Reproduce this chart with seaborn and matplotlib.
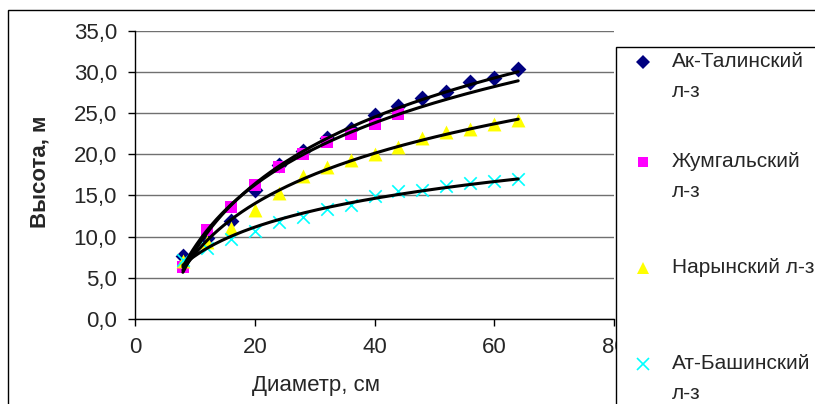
import numpy as np
import pandas as pd
import matplotlib
matplotlib.use("Agg")
import matplotlib.pyplot as plt
import seaborn as sns
from matplotlib.lines import Line2D
from matplotlib.patches import Rectangle
from matplotlib.ticker import FuncFormatter

# ---- data ----
diam = [8, 12, 16, 20, 24, 28, 32, 36, 40, 44, 48, 52, 56, 60, 64]
ak_talin = [7.6, 9.8, 11.9, 15.6, 18.7, 20.4, 22.0, 23.1, 24.8, 25.8, 26.8, 27.5, 28.7, 29.2, 30.3]
jumgal_d = [8, 12, 16, 20, 24, 28, 32, 36, 40, 44]
jumgal = [6.3, 10.8, 13.6, 16.3, 18.5, 20.0, 21.5, 22.5, 23.6, 24.9]
naryn = [7.0, 9.4, 11.0, 13.2, 15.3, 17.3, 18.4, 19.3, 20.0, 20.9, 22.0, 22.7, 23.1, 23.7, 24.2]
at_bashy = [7.2, 8.6, 9.7, 10.7, 11.8, 12.4, 13.4, 13.8, 14.9, 15.5, 15.7, 16.1, 16.5, 16.7, 17.0]

names = ["Ак-Талинский\nл-з", "Жумгальский\nл-з", "Нарынский л-з", "Ат-Башинский\nл-з"]
xs = [diam, jumgal_d, diam, diam]
ys = [ak_talin, jumgal, naryn, at_bashy]
markers = ["D", "s", "^", "x"]
colors = ["#000080", "#FF00FF", "#FFFF00", "#00FFFF"]
msizes = [65, 70, 100, 80]

sns.set_style("white")
plt.rcParams["font.family"] = ["Liberation Sans", "DejaVu Sans"]

fig = plt.figure(figsize=(8.15, 4.04), dpi=100)
W, H = 815, 404
ax = fig.add_axes([135 / W, 1 - 319 / H, (614 - 135) / W, (319 - 30.5) / H])

for x, y, m, c, s in zip(xs, ys, markers, colors, msizes):
    df = pd.DataFrame({"x": x, "y": y})
    if m == "x":
        sns.scatterplot(data=df, x="x", y="y", marker=m, color=c, s=s, linewidth=1.2, ax=ax, zorder=3)
    else:
        sns.scatterplot(data=df, x="x", y="y", marker=m, color=c, s=s, linewidth=0, ax=ax, zorder=3)

# logarithmic trendlines (fit computed from the data, extended to 64)
xx = np.linspace(8, 64, 200)
for x, y in zip(xs, ys):
    a, b = np.polyfit(np.log(x), y, 1)
    tdf = pd.DataFrame({"x": xx, "y": a * np.log(xx) + b})
    sns.lineplot(data=tdf, x="x", y="y", color="black", linewidth=2.2, ax=ax, zorder=4)

ax.set_xlim(0, 80)
ax.set_ylim(0, 35)
ax.set_xticks([0, 20, 40, 60, 80])
ax.set_yticks(np.arange(0, 36, 5))
ax.yaxis.set_major_formatter(FuncFormatter(lambda v, p: f"{v:.1f}".replace(".", ",")))
ax.grid(axis="y", color="#707070", linewidth=1)
ax.set_axisbelow(True)
for side in ["top", "right"]:
    ax.spines[side].set_visible(False)
for side in ["left", "bottom"]:
    ax.spines[side].set_color("black")
    ax.spines[side].set_linewidth(1)
ax.tick_params(axis="both", which="major", direction="out", length=5, width=1,
               color="black", labelsize=16, left=True, bottom=True, pad=8)
ax.set_xlabel("Диаметр, см", fontsize=16)
ax.set_ylabel("Высота, м", fontsize=16, fontweight="bold")
ax.xaxis.set_label_coords((316 - 135) / 479, (319 - 386) / 288.5)
ax.yaxis.label.set_verticalalignment("center")
ax.xaxis.label.set_verticalalignment("center")
ax.yaxis.set_label_coords((40 - 135) / 479, (319 - 172) / 288.5)

# legend box (extends past the figure edge, as in the reference)
fig.add_artist(Rectangle((616 / W, -0.2), 0.5, 1.2 - 47 / H, transform=fig.transFigure,
                         facecolor="white", edgecolor="black", linewidth=1, clip_on=False, zorder=10))
leg_y = [62, 162, 268, 364]
for name, m, c, ms, yy in zip(names, markers, colors, [7, 7.5, 9, 9], leg_y):
    fig.add_artist(Line2D([643 / W], [1 - yy / H], linestyle="none", marker=m, color=c,
                          markersize=ms, markeredgewidth=(1.2 if m == "x" else 0),
                          transform=fig.transFigure, zorder=11))
    fig.text(672 / W, 1 - (yy - 10) / H, name, fontsize=15, va="top", ha="left",
             linespacing=1.75, zorder=11)

# outer chart border
fig.add_artist(Rectangle((8 / W, -0.2), 1.0, 1.2 - 10 / H, transform=fig.transFigure,
                         fill=False, edgecolor="black", linewidth=1, clip_on=False))

fig.savefig("out.png", dpi=100)
